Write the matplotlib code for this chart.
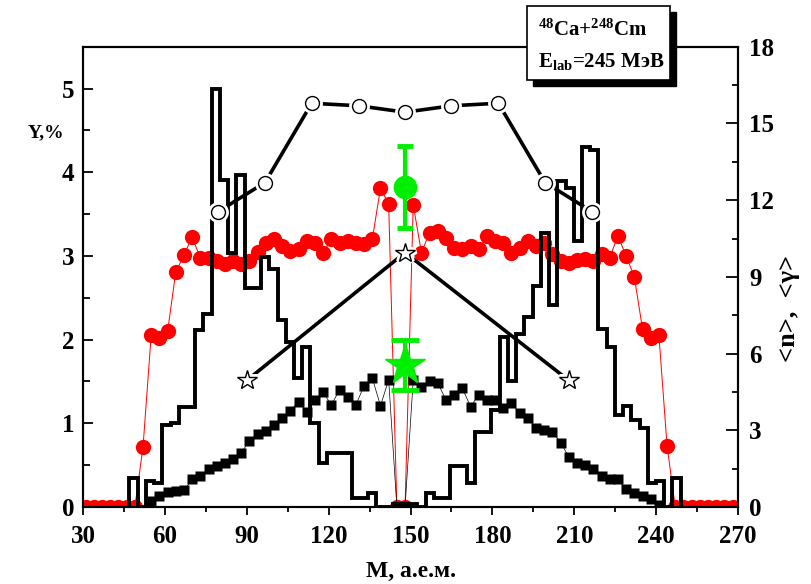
import numpy as np
import matplotlib
matplotlib.use("Agg")
import matplotlib.pyplot as plt
from matplotlib.patches import Rectangle

plt.rcParams['font.family'] = ['Liberation Serif', 'DejaVu Serif']
plt.rcParams['font.weight'] = 'bold'
plt.rcParams['mathtext.fontset'] = 'custom'
plt.rcParams['mathtext.rm'] = 'Liberation Serif:bold'
plt.rcParams['mathtext.bf'] = 'Liberation Serif:bold'
plt.rcParams['mathtext.default'] = 'bf'

# fragment mass yield, Y (%), every 3 mass units
yield_m = np.arange(31, 270, 3)
yield_y = [0, 0, 0, 0, 0, 0, 0,
           0.72, 2.06, 2.02, 2.10, 2.81, 3.01, 3.23, 2.97, 2.98, 2.94,
           2.90, 2.94, 2.90, 2.94, 3.05, 3.16, 3.20, 3.12, 3.06, 3.08,
           3.18, 3.15, 3.04, 3.20, 3.16, 3.18, 3.16, 3.14, 3.20, 3.81,
           3.62, 0, 0, 3.61, 3.04, 3.28, 3.30, 3.22, 3.10, 3.08,
           3.12, 3.08, 3.24, 3.18, 3.16, 3.04, 3.10, 3.18, 3.12, 3.16,
           3.02, 2.94, 2.92, 2.95, 2.96, 2.94, 3.02, 2.98, 3.24, 3.00,
           2.75, 2.13, 2.02, 2.06, 0.73,
           0, 0, 0, 0, 0, 0, 0, 0]

# second yield (squares)
sq_m = np.arange(55, 242, 3)
sq_y = [0.07, 0.13, 0.18, 0.19, 0.20, 0.33, 0.37, 0.45, 0.49, 0.53,
        0.57, 0.65, 0.79, 0.87, 0.91, 0.98, 1.06, 1.15, 1.26, 1.14,
        1.28, 1.37, 1.22, 1.40, 1.32, 1.22, 1.45, 1.54, 1.21, 1.52,
        0, 0, 1.52, 1.44, 1.50, 1.48, 1.28, 1.34, 1.42, 1.20,
        1.34, 1.28, 1.28, 1.18, 1.24, 1.12, 1.06, 0.94, 0.92, 0.90,
        0.77, 0.60, 0.53, 0.50, 0.45, 0.37, 0.33, 0.33, 0.21, 0.17,
        0.13, 0.09, 0.02]

# histogram, 67 bins
hist_edges = np.linspace(47, 249, 68)
hist_y = [0.35, 0, 0.31, 0.29, 0.98, 1.00, 1.19, 1.19, 2.11, 2.31,
          4.99, 3.91, 3.03, 3.97, 2.62, 2.62, 2.99, 2.84, 2.23, 1.97,
          1.54, 1.91, 1.00, 0.53, 0.65, 0.65, 0.65, 0.11, 0.11, 0.17,
          0, 0, 0.04, 0.04, 0.04, 0, 0.17, 0.11, 0.11, 0.49,
          0.49, 0.29, 0.90, 0.90, 1.16, 2.03, 1.50, 2.07, 2.27, 2.64,
          3.28, 2.41, 3.89, 3.81, 3.18, 4.30, 4.26, 2.13, 1.91, 1.10,
          1.21, 1.04, 0.94, 0.29, 0.31, 0, 0.35]

# <n> (open circles) and <gamma> (open stars), right axis
n_m = [79.5, 96.7, 113.8, 131, 148, 165, 182.2, 199.3, 216.5]
n_val = [11.55, 12.69, 15.79, 15.69, 15.44, 15.69, 15.79, 12.69, 11.55]
g_m = [90, 148, 208]
g_val = [4.95, 9.95, 4.95]

# experimental points
exp_n_m, exp_n, exp_n_err = 148, 12.5, 1.6
exp_g_m, exp_g, exp_g_err = 148, 5.55, 0.97

fig = plt.figure(figsize=(8.12, 5.84), dpi=100)
ax = fig.add_axes([0.1022, 0.1318, 0.8067, 0.7882])
ax2 = ax.twinx()

ax.plot(yield_m, yield_y, color='red', lw=0.7, marker='o', ms=11,
        mec='none', mfc='red', zorder=2)
ax.stairs(hist_y, hist_edges, color='black', lw=2.8, baseline=0, zorder=3)
ax.plot(sq_m, sq_y, color='black', lw=0.5, marker='s', ms=7,
        mec='none', mfc='black', zorder=4)

# thick lines with gaps around the symbols
ax2.plot(n_m, n_val, color='black', lw=2.6, zorder=5)
ax2.plot(n_m, n_val, ls='none', marker='o', ms=10, mfc='white', mec='white', mew=5, zorder=6)
ax2.plot(n_m, n_val, ls='none', marker='o', ms=10, mfc='white', mec='black', mew=1, zorder=7)
ax2.plot(g_m, g_val, color='black', lw=2.6, zorder=5)
ax2.plot(g_m, g_val, ls='none', marker='*', ms=15, mfc='white', mec='white', mew=5, zorder=6)
ax2.plot(g_m, g_val, ls='none', marker='*', ms=15, mfc='white', mec='black', mew=1, zorder=7)

ax2.errorbar(exp_n_m, exp_n, yerr=exp_n_err, color='#00ee00', marker='o', ms=16,
             elinewidth=3, capsize=6, capthick=3.5, zorder=8)
ax2.errorbar(exp_g_m, exp_g, yerr=exp_g_err, color='#00ee00', marker='*', ms=30,
             elinewidth=3, capsize=10, capthick=3.5, zorder=8)
ax2.set_zorder(ax.get_zorder() + 1)
ax2.patch.set_visible(False)

ax.set_xlim(30, 270)
ax.set_ylim(0, 5.5)
ax2.set_ylim(0, 18)
ax.set_xticks(np.arange(30, 271, 30))
ax.set_xticks(np.arange(45, 270, 30), minor=True)
ax.set_yticks(np.arange(0, 6, 1))
ax.set_yticks(np.arange(0.5, 5.5, 1), minor=True)
ax2.set_yticks(np.arange(0, 19, 3))
ax2.set_yticks(np.arange(1.5, 18, 3), minor=True)

for a in (ax, ax2):
    for s in a.spines.values():
        s.set_linewidth(1.5)
ax.tick_params(axis='x', which='both', direction='out', width=1.3, labelsize=18, pad=7)
ax.tick_params(axis='x', which='major', length=6)
ax.tick_params(axis='x', which='minor', length=3.5)
ax.tick_params(axis='y', which='both', direction='in', width=1.3, labelsize=18, pad=6)
ax.tick_params(axis='y', which='major', length=7)
ax.tick_params(axis='y', which='minor', length=5)
ax2.tick_params(axis='y', which='both', direction='in', width=1.3, labelsize=18, pad=8)
ax2.tick_params(axis='y', which='major', length=8.5)
ax2.tick_params(axis='y', which='minor', length=4)

ax.set_xlabel('M, а.е.м.', fontsize=17, fontweight='bold', labelpad=9)
fig.text(46 / 812, 1 - 133 / 584, 'Y,%', fontsize=14, fontweight='bold',
         ha='center', va='center')
fig.text(789 / 812, 1 - 308 / 584, '<n>,  <γ>', fontsize=19, fontweight='bold',
         rotation=90, ha='center', va='center')

# reaction box with drop shadow
bx, by, bw, bh = 527 / 812, 1 - 80 / 584, 143 / 812, 74 / 584
fig.patches.append(Rectangle((bx + 6 / 812, by - 6 / 584), bw, bh, transform=fig.transFigure,
                             facecolor='black', edgecolor='black', zorder=1))
fig.patches.append(Rectangle((bx, by), bw, bh, transform=fig.transFigure,
                             facecolor='white', edgecolor='black', lw=1.2, zorder=2))
fig.text(538 / 812, 1 - 30 / 584, r'$^{48}$Ca+$^{248}$Cm', fontsize=15, fontweight='bold',
         ha='left', va='center', zorder=3)
fig.text(538 / 812, 1 - 62 / 584, r'E$_{lab}$=245 МэВ', fontsize=15, fontweight='bold',
         ha='left', va='center', zorder=3)

fig.savefig('out.png', dpi=100)
